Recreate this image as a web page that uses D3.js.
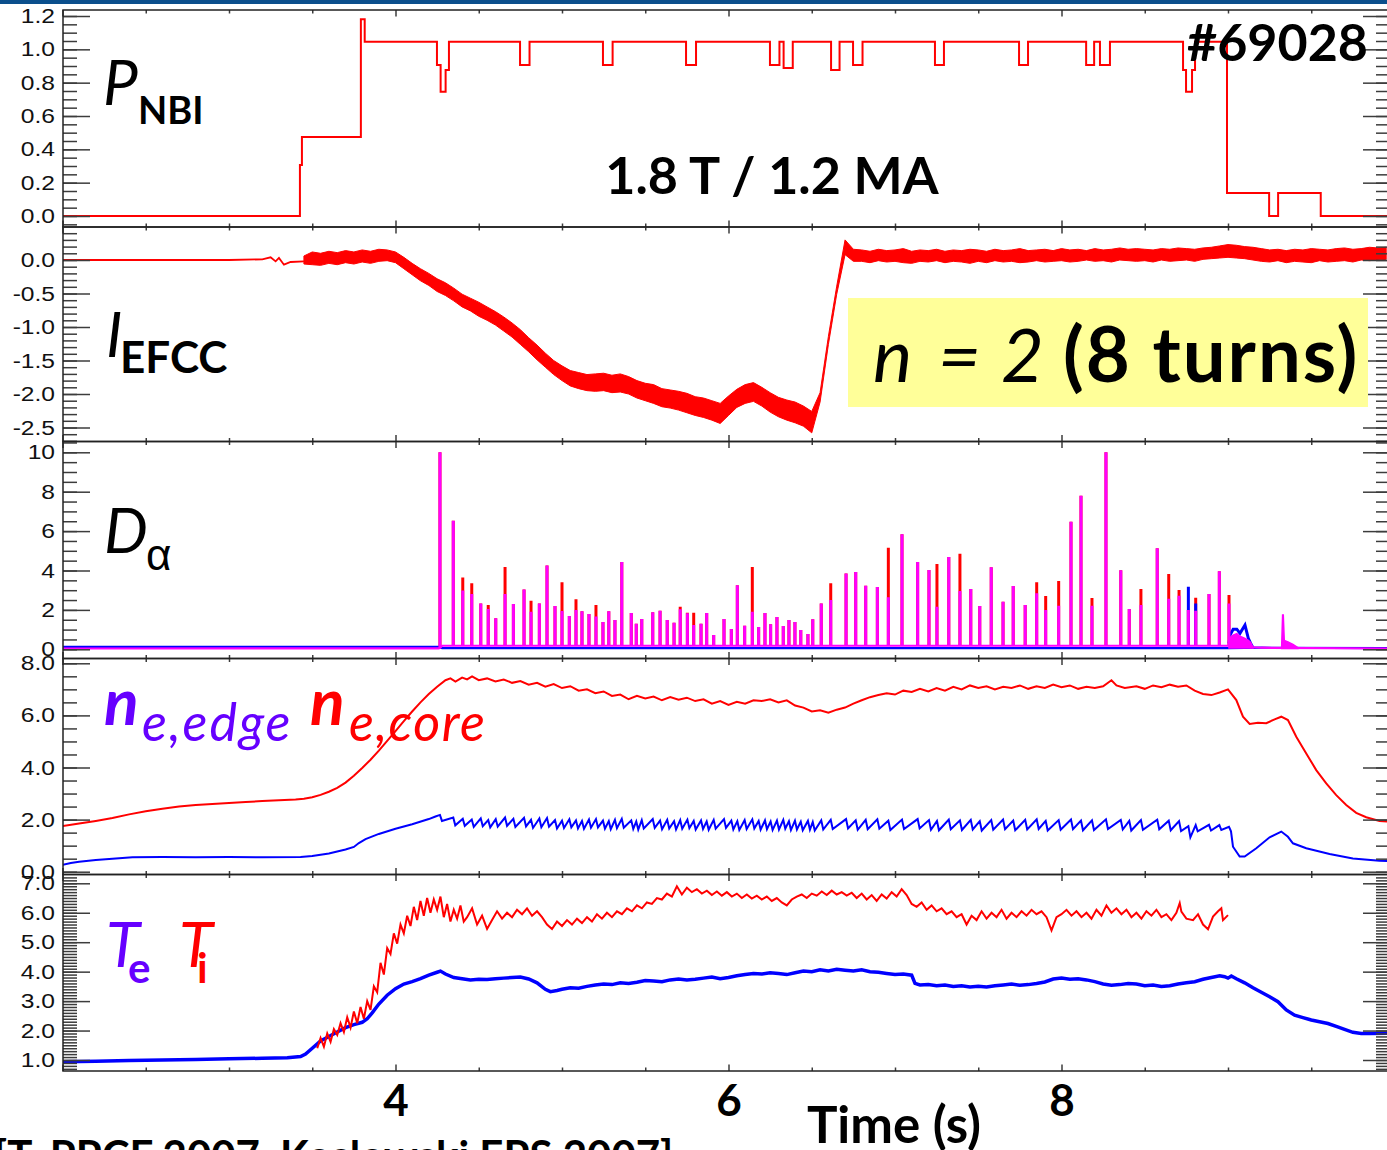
<!DOCTYPE html>
<html>
<head>
<meta charset="utf-8">
<script src="https://cdn.jsdelivr.net/npm/d3@7"></script>
<style>
  html, body { margin: 0; padding: 0; background: #fff; }
  svg { display: block; }
</style>
</head>
<body>
<svg id="chart" width="1387" height="1150"></svg>
<script>
// ---------------------------------------------------------------
// Discharge #69028 — time traces (s)
// ---------------------------------------------------------------

// Tick labels for each panel
const pnbiTicks  = [0, 0.2, 0.4, 0.6, 0.8, 1.0, 1.2];
const iefccTicks = [0, -0.5, -1.0, -1.5, -2.0, -2.5];
const daTicks    = [0, 2, 4, 6, 8, 10];
const neTicks    = [0, 2, 4, 6, 8];
const tTicks     = [1, 2, 3, 4, 5, 6, 7];
const timeLabels = [4, 6, 8];

// Neutral beam power (step trace): [time, power]
const pnbiSteps = [
  [2.000, 0.000], [3.426, 0.306], [3.438, 0.474], [3.792, 1.180], [3.815, 1.045],
  [4.249, 0.906], [4.271, 0.746], [4.301, 0.876], [4.321, 1.045],
  [4.748, 0.906], [4.805, 1.045], [5.246, 0.906], [5.304, 1.045],
  [5.745, 0.906], [5.805, 1.045], [6.249, 0.906], [6.306, 1.045],
  [6.331, 0.888], [6.386, 1.045], [6.616, 0.876], [6.667, 1.045],
  [6.748, 0.906], [6.805, 1.045], [7.240, 0.906], [7.294, 1.045],
  [7.745, 0.906], [7.799, 1.045], [8.148, 0.906], [8.196, 1.045],
  [8.231, 0.906], [8.291, 1.045],
  [8.730, 0.876], [8.748, 0.746], [8.784, 0.876], [8.802, 1.045],
  [8.994, 0.138], [9.247, 0.000], [9.301, 0.138], [9.557, 0.000], [9.975, 0.000]
];

// EFCC current: quiet part before the coils switch on
const iefccQuiet = [
  [2.00, 0.00], [3.00, 0.00], [3.20, 0.01], [3.25, 0.04], [3.28, -0.02],
  [3.30, 0.03], [3.33, -0.07], [3.37, -0.03], [3.45, -0.02]
];
// EFCC current: noise envelope sampled every 50 ms from 3.45 s
const iefccStart = 3.45, iefccStep = 0.05;
const iefccHigh = [
  0.06, 0.12, 0.10, 0.13, 0.11, 0.14, 0.12, 0.15, 0.13, 0.16,
  0.15, 0.12, 0.04, -0.05, -0.13, -0.20, -0.28, -0.34, -0.42, -0.51,
  -0.57, -0.63, -0.70, -0.77, -0.85, -0.94, -1.04, -1.16, -1.27, -1.39,
  -1.50, -1.58, -1.65, -1.68, -1.71, -1.70, -1.69, -1.72, -1.70, -1.74,
  -1.80, -1.84, -1.86, -1.92, -1.94, -1.96, -1.99, -2.04, -2.06, -2.10,
  -2.14, -2.03, -1.93, -1.86, -1.83, -1.90, -1.98, -2.05, -2.09, -2.12,
  -2.18, -2.26, -1.98, -1.14, -0.39, 0.30, 0.16, 0.15, 0.13, 0.16,
  0.14, 0.15, 0.17, 0.13, 0.15, 0.14, 0.16, 0.13, 0.15, 0.14,
  0.16, 0.15, 0.13, 0.16, 0.14, 0.15, 0.17, 0.14, 0.15, 0.16,
  0.14, 0.17, 0.15, 0.16, 0.14, 0.17, 0.15, 0.16, 0.18, 0.16,
  0.17, 0.16, 0.15, 0.17, 0.16, 0.18, 0.17, 0.16, 0.18, 0.19,
  0.21, 0.23, 0.22, 0.20, 0.19, 0.17, 0.15, 0.16, 0.14, 0.16,
  0.15, 0.17, 0.16, 0.15, 0.17, 0.18, 0.16, 0.17, 0.19, 0.18,
  0.19
];
const iefccLow = [
  -0.06, -0.07, -0.08, -0.05, -0.07, -0.04, -0.06, -0.03, -0.05, -0.02,
  -0.01, -0.04, -0.13, -0.22, -0.31, -0.38, -0.47, -0.53, -0.61, -0.70,
  -0.76, -0.84, -0.90, -0.97, -1.06, -1.15, -1.26, -1.37, -1.49, -1.60,
  -1.71, -1.80, -1.88, -1.92, -1.95, -1.96, -1.95, -1.98, -1.97, -2.00,
  -2.06, -2.10, -2.14, -2.19, -2.21, -2.24, -2.28, -2.32, -2.35, -2.39,
  -2.44, -2.32, -2.20, -2.14, -2.11, -2.18, -2.27, -2.34, -2.39, -2.43,
  -2.48, -2.58, -2.12, -1.26, -0.51, 0.08, -0.02, -0.02, -0.04, -0.01,
  -0.03, -0.02, -0.04, -0.05, -0.02, -0.03, -0.01, -0.04, -0.02, -0.03,
  -0.05, -0.02, -0.04, -0.01, -0.03, -0.02, -0.04, -0.03, -0.01, -0.03,
  -0.02, -0.01, -0.03, -0.02, 0.00, -0.02, -0.01, -0.03, 0.00, -0.01,
  -0.02, -0.01, -0.03, 0.00, -0.02, -0.01, 0.00, -0.02, 0.01, 0.02,
  0.03, 0.04, 0.03, 0.02, 0.00, -0.02, -0.03, -0.01, -0.04, -0.02,
  -0.03, -0.04, -0.01, -0.03, -0.02, -0.01, -0.03, 0.00, -0.01, 0.00,
  0.01
];

// D-alpha: ELM times (s) and peak heights of the three channels
const elmTimes = [
  4.267, 4.347, 4.404, 4.458, 4.512, 4.557, 4.602, 4.658, 4.708, 4.772,
  4.814, 4.864, 4.910, 4.958, 5.000, 5.044, 5.084, 5.120, 5.162, 5.204,
  5.246, 5.281, 5.318, 5.359, 5.416, 5.446, 5.479, 5.545, 5.589, 5.632,
  5.673, 5.710, 5.753, 5.791, 5.835, 5.869, 5.911, 5.973, 6.017, 6.053,
  6.097, 6.143, 6.181, 6.219, 6.253, 6.291, 6.329, 6.363, 6.399, 6.434,
  6.477, 6.506, 6.557, 6.614, 6.706, 6.764, 6.824, 6.894, 6.960, 7.042,
  7.136, 7.204, 7.252, 7.323, 7.390, 7.455, 7.509, 7.578, 7.649, 7.710,
  7.782, 7.851, 7.905, 7.983, 8.057, 8.117, 8.183, 8.267, 8.356, 8.407,
  8.477, 8.575, 8.644, 8.706, 8.762, 8.806, 8.886, 8.948, 9.006
];
const daMagenta = [
  10.0, 6.53, 2.98, 2.81, 2.33, 2.05, 1.57, 2.81, 2.30, 3.04,
  1.91, 2.33, 4.25, 2.20, 1.94, 1.69, 2.00, 1.93, 1.79, 1.66,
  1.39, 1.93, 1.49, 4.43, 1.84, 1.30, 1.54, 1.88, 1.96, 1.49,
  1.35, 2.03, 1.83, 1.23, 1.30, 1.84, 0.73, 1.54, 1.03, 3.25,
  1.20, 1.91, 1.13, 1.84, 1.27, 1.64, 1.18, 1.49, 1.39, 0.98,
  0.78, 1.52, 2.33, 2.50, 3.85, 3.92, 3.23, 3.16, 2.64, 5.84,
  4.43, 4.03, 2.16, 4.69, 2.96, 3.06, 2.20, 4.16, 2.42, 3.21,
  2.25, 2.84, 2.00, 2.21, 6.48, 7.80, 2.21, 10.0, 4.01, 2.05,
  2.25, 5.13, 2.57, 2.72, 2.00, 1.96, 2.81, 3.96, 2.33
];
const daRed = [
  10.0, 6.53, 3.64, 3.35, 2.33, 2.25, 1.57, 4.18, 2.30, 3.04,
  2.47, 2.33, 4.25, 2.20, 3.40, 1.69, 2.54, 1.93, 1.79, 2.25,
  1.39, 1.93, 1.49, 4.43, 1.84, 1.30, 1.54, 1.88, 1.96, 1.49,
  1.35, 2.16, 1.86, 1.86, 1.30, 1.84, 0.73, 1.54, 1.03, 3.25,
  1.20, 4.18, 1.13, 1.84, 1.27, 1.64, 1.18, 1.49, 1.39, 0.98,
  0.78, 1.52, 2.33, 3.35, 3.85, 3.92, 3.23, 3.16, 5.16, 5.84,
  4.43, 4.03, 4.33, 4.69, 4.85, 3.06, 2.20, 4.16, 2.42, 3.21,
  2.25, 3.40, 2.71, 3.47, 6.48, 7.80, 2.60, 10.0, 4.01, 2.05,
  3.06, 5.13, 3.82, 3.01, 2.00, 2.62, 2.81, 3.96, 2.76
];
const daBlueSpikeTimes  = [8.762, 8.806];
const daBlueSpikeValues = [3.18, 2.33];
// D-alpha baselines
const daBaseTimes   = [2.00, 4.26, 4.28, 9.00, 9.20, 9.975];
const daBaseBlue    = [0.12, 0.12, 0.06, 0.06, 0.08, 0.06];
const daBaseMagenta = [0.04, 0.05, 0.18, 0.18, 0.08, 0.04];
// D-alpha after the H-L back-transition
const daTailTimes   = [9.006, 9.013, 9.031, 9.053, 9.072, 9.102, 9.122, 9.136, 9.150];
const daTailBlue    = [0.30, 0.73, 1.02, 1.02, 0.81, 1.23, 0.56, 0.30, 0.08];
const daTailMagenta = [0.30, 0.60, 0.72, 0.80, 0.66, 0.55, 0.45, 0.35, 0.10];
const daLateTimes   = [9.322, 9.328, 9.332, 9.338, 9.360, 9.390, 9.420];
const daLateMagenta = [0.06, 1.74, 1.74, 0.45, 0.38, 0.25, 0.08];

// Core line-averaged density: [time, value]
const neCore = [
  [2.00, 1.75], [2.10, 1.85], [2.20, 1.95], [2.30, 2.06], [2.40, 2.20], [2.50, 2.32],
  [2.60, 2.42], [2.70, 2.50], [2.80, 2.56], [2.90, 2.60], [3.00, 2.64], [3.10, 2.68],
  [3.20, 2.71], [3.30, 2.74], [3.40, 2.77], [3.45, 2.80], [3.50, 2.86], [3.55, 2.95],
  [3.60, 3.07], [3.65, 3.22], [3.70, 3.42], [3.75, 3.68], [3.80, 3.98], [3.85, 4.30],
  [3.90, 4.65], [3.95, 5.02], [4.00, 5.40], [4.05, 5.78], [4.10, 6.15], [4.15, 6.50],
  [4.20, 6.82], [4.25, 7.10], [4.30, 7.35], [4.33, 7.42], [4.36, 7.30], [4.40, 7.45],
  [4.43, 7.38], [4.46, 7.50], [4.50, 7.35], [4.55, 7.42], [4.60, 7.30], [4.65, 7.38],
  [4.70, 7.25], [4.75, 7.32], [4.80, 7.18], [4.85, 7.25], [4.90, 7.10], [4.95, 7.20],
  [5.00, 7.05], [5.05, 7.12], [5.10, 6.95], [5.15, 7.00], [5.20, 6.85], [5.25, 6.92],
  [5.30, 6.75], [5.35, 6.80], [5.40, 6.62], [5.45, 6.75], [5.50, 6.65], [5.55, 6.72],
  [5.60, 6.58], [5.65, 6.70], [5.70, 6.60], [5.75, 6.68], [5.80, 6.55], [5.85, 6.62],
  [5.90, 6.45], [5.95, 6.55], [6.00, 6.40], [6.05, 6.52], [6.10, 6.45], [6.15, 6.58],
  [6.20, 6.55], [6.25, 6.62], [6.30, 6.50], [6.35, 6.58], [6.40, 6.38], [6.45, 6.30],
  [6.50, 6.15], [6.55, 6.20], [6.60, 6.10], [6.65, 6.22], [6.70, 6.30], [6.75, 6.45],
  [6.80, 6.58], [6.85, 6.70], [6.90, 6.78], [6.95, 6.85], [7.00, 6.80], [7.05, 6.95],
  [7.10, 6.90], [7.15, 7.02], [7.20, 6.92], [7.25, 7.05], [7.30, 6.95], [7.35, 7.10],
  [7.40, 7.00], [7.45, 7.15], [7.50, 7.05], [7.55, 7.12], [7.60, 7.00], [7.65, 7.10],
  [7.70, 7.05], [7.75, 7.15], [7.80, 7.02], [7.85, 7.12], [7.90, 7.05], [7.95, 7.18],
  [8.00, 7.08], [8.05, 7.15], [8.10, 7.02], [8.15, 7.10], [8.20, 7.05], [8.25, 7.12],
  [8.30, 7.35], [8.33, 7.15], [8.38, 7.05], [8.45, 7.12], [8.50, 7.02], [8.55, 7.15],
  [8.60, 7.08], [8.65, 7.18], [8.70, 7.10], [8.75, 7.15], [8.80, 6.95], [8.85, 6.82],
  [8.90, 6.78], [8.95, 6.88], [9.00, 7.00], [9.05, 6.59], [9.09, 5.95], [9.13, 5.67],
  [9.18, 5.72], [9.23, 5.70], [9.28, 5.85], [9.32, 5.95], [9.36, 5.82], [9.41, 5.18],
  [9.47, 4.54], [9.53, 3.90], [9.59, 3.39], [9.65, 2.94], [9.71, 2.56], [9.77, 2.26],
  [9.83, 2.09], [9.91, 1.95], [9.975, 1.92]
];

// Edge density: before the ELMs, value before / after each ELM, and after H-mode
const neEdgePre = [
  [2.00, 0.26], [2.05, 0.33], [2.10, 0.38], [2.20, 0.45], [2.30, 0.50], [2.42, 0.55],
  [2.60, 0.56], [2.80, 0.55], [3.00, 0.56], [3.20, 0.55], [3.43, 0.56], [3.50, 0.60],
  [3.60, 0.70], [3.70, 0.85], [3.75, 0.95], [3.78, 1.10], [3.82, 1.25], [3.90, 1.45],
  [4.00, 1.65], [4.10, 1.82], [4.20, 2.02], [4.24, 2.12]
];
const neEdgeBeforeElm = [
  2.18, 2.08, 2.03, 2.00, 2.05, 1.98, 2.02, 2.08, 2.03, 2.07,
  1.99, 2.04, 2.06, 1.98, 1.96, 2.01, 1.97, 1.95, 2.00, 2.02,
  1.96, 1.94, 1.99, 2.03, 1.97, 1.93, 1.98, 2.02, 1.96, 1.99,
  1.94, 1.98, 2.00, 1.95, 1.97, 1.93, 1.99, 2.02, 1.96, 1.94,
  1.98, 2.01, 1.95, 1.97, 1.93, 1.96, 1.99, 1.94, 1.96, 1.92,
  1.95, 1.91, 1.97, 1.99, 2.02, 1.97, 1.99, 2.01, 1.96, 2.00,
  2.02, 1.98, 1.95, 2.00, 1.97, 1.99, 1.94, 1.98, 2.00, 1.96,
  1.99, 2.01, 1.95, 1.98, 2.00, 1.96, 1.97, 2.01, 1.99, 1.95,
  1.98, 2.00, 1.96, 1.94, 1.75, 1.79, 1.80, 1.79, 1.72
];
const neEdgeAfterElm = [
  1.95, 1.78, 1.76, 1.72, 1.75, 1.70, 1.73, 1.76, 1.72, 1.74,
  1.68, 1.71, 1.73, 1.66, 1.68, 1.70, 1.66, 1.65, 1.69, 1.70,
  1.65, 1.63, 1.67, 1.69, 1.64, 1.62, 1.66, 1.68, 1.63, 1.66,
  1.62, 1.65, 1.67, 1.62, 1.64, 1.61, 1.65, 1.68, 1.62, 1.60,
  1.64, 1.66, 1.61, 1.63, 1.60, 1.62, 1.65, 1.60, 1.62, 1.59,
  1.61, 1.58, 1.62, 1.64, 1.66, 1.61, 1.63, 1.65, 1.60, 1.64,
  1.66, 1.61, 1.59, 1.63, 1.60, 1.62, 1.58, 1.61, 1.63, 1.59,
  1.62, 1.64, 1.58, 1.61, 1.63, 1.59, 1.60, 1.64, 1.62, 1.58,
  1.61, 1.63, 1.59, 1.56, 1.32, 1.55, 1.58, 1.60, 1.55
];
const neEdgePost = [
  [9.03, 0.96], [9.07, 0.58], [9.10, 0.58], [9.17, 0.90], [9.25, 1.32], [9.32, 1.54],
  [9.36, 1.34], [9.39, 1.09], [9.47, 0.90], [9.61, 0.68], [9.75, 0.51], [9.91, 0.42],
  [9.975, 0.40]
];

// Electron temperature: [time, value]
const teData = [
  [2.00, 0.94], [2.20, 0.96], [2.40, 0.98], [2.60, 1.00], [2.80, 1.02], [3.00, 1.04],
  [3.20, 1.06], [3.35, 1.08], [3.43, 1.12], [3.46, 1.20], [3.50, 1.40], [3.55, 1.65],
  [3.60, 1.80], [3.65, 1.95], [3.70, 2.10], [3.75, 2.20], [3.80, 2.28], [3.83, 2.40],
  [3.86, 2.60], [3.90, 2.90], [3.95, 3.20], [4.00, 3.42], [4.05, 3.58], [4.10, 3.66],
  [4.15, 3.76], [4.20, 3.88], [4.25, 3.98], [4.27, 4.02], [4.30, 3.92], [4.35, 3.80],
  [4.40, 3.76], [4.45, 3.72], [4.50, 3.74], [4.55, 3.73], [4.60, 3.76], [4.65, 3.78],
  [4.70, 3.80], [4.75, 3.82], [4.80, 3.75], [4.85, 3.62], [4.90, 3.40], [4.93, 3.32],
  [4.97, 3.36], [5.00, 3.40], [5.05, 3.45], [5.10, 3.44], [5.15, 3.50], [5.20, 3.55],
  [5.25, 3.58], [5.30, 3.56], [5.35, 3.62], [5.40, 3.60], [5.45, 3.64], [5.50, 3.70],
  [5.55, 3.68], [5.60, 3.66], [5.65, 3.72], [5.70, 3.75], [5.75, 3.72], [5.80, 3.74],
  [5.85, 3.78], [5.90, 3.82], [5.95, 3.76], [6.00, 3.80], [6.05, 3.86], [6.10, 3.90],
  [6.15, 3.94], [6.20, 3.92], [6.25, 3.96], [6.30, 3.94], [6.35, 3.90], [6.40, 3.96],
  [6.45, 4.02], [6.50, 4.00], [6.55, 4.06], [6.60, 4.02], [6.65, 4.08], [6.70, 4.05],
  [6.75, 4.02], [6.80, 4.06], [6.85, 4.00], [6.90, 3.98], [6.95, 3.94], [7.00, 3.90],
  [7.05, 3.92], [7.10, 3.88], [7.12, 3.60], [7.15, 3.55], [7.20, 3.56], [7.25, 3.52],
  [7.30, 3.55], [7.35, 3.50], [7.40, 3.52], [7.45, 3.48], [7.50, 3.50], [7.55, 3.48],
  [7.60, 3.52], [7.65, 3.55], [7.70, 3.58], [7.75, 3.54], [7.80, 3.56], [7.85, 3.60],
  [7.90, 3.65], [7.95, 3.75], [8.00, 3.78], [8.05, 3.74], [8.10, 3.76], [8.15, 3.72],
  [8.20, 3.66], [8.25, 3.58], [8.30, 3.54], [8.35, 3.56], [8.40, 3.60], [8.45, 3.58],
  [8.50, 3.52], [8.55, 3.55], [8.60, 3.50], [8.65, 3.52], [8.70, 3.58], [8.75, 3.62],
  [8.80, 3.66], [8.85, 3.74], [8.90, 3.80], [8.95, 3.86], [8.98, 3.83], [9.00, 3.78],
  [9.02, 3.85], [9.05, 3.76], [9.10, 3.62], [9.15, 3.45], [9.20, 3.30], [9.25, 3.15],
  [9.30, 2.98], [9.35, 2.70], [9.40, 2.52], [9.45, 2.44], [9.50, 2.36], [9.55, 2.30],
  [9.60, 2.24], [9.65, 2.14], [9.70, 2.04], [9.75, 1.94], [9.80, 1.90], [9.85, 1.90],
  [9.975, 1.91]
];

// Ion temperature (CX): [time, value]
const tiData = [
  [3.53, 1.40], [3.55, 1.75], [3.57, 1.45], [3.59, 1.90], [3.61, 1.62], [3.63, 2.05],
  [3.65, 1.85], [3.67, 2.25], [3.69, 1.95], [3.71, 2.45], [3.73, 2.10], [3.75, 2.65],
  [3.77, 2.25], [3.79, 2.80], [3.81, 2.40], [3.83, 3.00], [3.85, 2.70], [3.87, 3.50],
  [3.89, 3.30], [3.91, 4.30], [3.93, 3.90], [3.95, 4.80], [3.97, 4.60], [3.99, 5.30],
  [4.01, 4.95], [4.03, 5.60], [4.05, 5.30], [4.07, 5.90], [4.09, 5.55], [4.11, 6.20],
  [4.13, 5.75], [4.15, 6.40], [4.17, 5.90], [4.19, 6.50], [4.21, 6.00], [4.23, 6.45],
  [4.25, 6.10], [4.27, 6.55], [4.29, 5.85], [4.31, 6.30], [4.33, 5.70], [4.35, 6.10],
  [4.37, 5.80], [4.39, 6.25], [4.41, 5.70], [4.43, 5.85], [4.46, 6.15], [4.49, 5.60],
  [4.52, 5.90], [4.55, 5.45], [4.58, 5.75], [4.61, 6.05], [4.64, 5.80], [4.67, 6.00],
  [4.70, 5.85], [4.73, 6.10], [4.76, 5.95], [4.79, 6.15], [4.82, 5.90], [4.85, 6.05],
  [4.88, 5.85], [4.91, 5.60], [4.94, 5.45], [4.97, 5.70], [5.00, 5.55], [5.03, 5.75],
  [5.06, 5.60], [5.09, 5.80], [5.12, 5.65], [5.15, 5.85], [5.18, 5.70], [5.21, 5.95],
  [5.24, 5.80], [5.27, 6.00], [5.30, 5.85], [5.33, 6.05], [5.36, 5.95], [5.39, 6.15],
  [5.42, 6.05], [5.45, 6.25], [5.48, 6.15], [5.51, 6.35], [5.54, 6.30], [5.57, 6.50],
  [5.60, 6.45], [5.63, 6.65], [5.66, 6.55], [5.69, 6.90], [5.72, 6.62], [5.75, 6.85],
  [5.78, 6.70], [5.81, 6.80], [5.84, 6.65], [5.87, 6.75], [5.90, 6.60], [5.93, 6.72],
  [5.96, 6.58], [5.99, 6.70], [6.02, 6.55], [6.05, 6.65], [6.08, 6.50], [6.11, 6.62],
  [6.14, 6.48], [6.17, 6.58], [6.20, 6.45], [6.23, 6.55], [6.26, 6.40], [6.29, 6.50],
  [6.32, 6.35], [6.35, 6.25], [6.38, 6.45], [6.41, 6.55], [6.44, 6.62], [6.47, 6.50],
  [6.50, 6.65], [6.53, 6.58], [6.56, 6.72], [6.59, 6.60], [6.62, 6.75], [6.65, 6.62],
  [6.68, 6.70], [6.71, 6.58], [6.74, 6.68], [6.77, 6.50], [6.80, 6.65], [6.83, 6.45],
  [6.86, 6.60], [6.89, 6.40], [6.92, 6.62], [6.95, 6.48], [6.98, 6.70], [7.01, 6.55],
  [7.04, 6.80], [7.07, 6.60], [7.10, 6.30], [7.13, 6.20], [7.16, 6.35], [7.19, 6.10],
  [7.22, 6.25], [7.25, 6.05], [7.28, 6.15], [7.31, 5.95], [7.34, 6.05], [7.37, 5.85],
  [7.40, 5.95], [7.43, 5.60], [7.46, 5.90], [7.49, 5.75], [7.52, 6.05], [7.55, 5.80],
  [7.58, 6.00], [7.61, 5.85], [7.64, 6.10], [7.67, 5.80], [7.70, 6.00], [7.73, 5.85],
  [7.76, 6.05], [7.79, 5.90], [7.82, 6.10], [7.85, 5.95], [7.88, 6.05], [7.91, 5.85],
  [7.94, 5.40], [7.97, 5.85], [8.00, 5.95], [8.03, 6.10], [8.06, 5.90], [8.09, 6.05],
  [8.12, 5.85], [8.15, 6.00], [8.18, 5.80], [8.21, 6.10], [8.24, 5.90], [8.27, 6.25],
  [8.30, 6.00], [8.33, 6.15], [8.36, 5.95], [8.39, 6.10], [8.42, 5.85], [8.45, 6.00],
  [8.48, 5.80], [8.51, 6.05], [8.54, 5.90], [8.57, 6.10], [8.60, 5.85], [8.63, 5.95],
  [8.66, 5.75], [8.69, 6.00], [8.71, 6.33], [8.72, 6.04], [8.75, 5.80], [8.79, 5.75],
  [8.82, 5.95], [8.85, 5.60], [8.88, 5.44], [8.91, 5.87], [8.94, 6.05], [8.96, 6.15],
  [8.97, 5.75], [9.00, 5.92]
];

// ---------------------------------------------------------------
// Layout
// ---------------------------------------------------------------
const svg = d3.select("#chart");
const X_L = 63, X_R = 1390;
const x = d3.scaleLinear().domain([2, 10]).range([62.5, 1394.5]);

const RED = "#ff0000", BLUE = "#0000ff", MAGENTA = "#ff00ff", PURPLE = "#6600ff";
const LABEL_FONT = "Lato, 'Open Sans', sans-serif";
const TICK_FONT = "'Liberation Sans', Arial, sans-serif";
const fixed1 = d => d.toFixed(1);

const panels = [
  { id: "pnbi",  top: 10,    bottom: 227,   y: d3.scaleLinear([0, 1.2], [216, 16]),
    major: pnbiTicks,  minorStep: 0.05, fmt: fixed1 },
  { id: "iefcc", top: 227,   bottom: 441.5, y: d3.scaleLinear([0, -2.5], [260, 427.5]),
    major: iefccTicks, minorStep: 0.1,  fmt: fixed1 },
  { id: "da",    top: 441.5, bottom: 658.5, y: d3.scaleLinear([0, 10], [649.3, 452.3]),
    major: daTicks,    minorStep: 0.5,  fmt: d3.format("d") },
  { id: "ne",    top: 658.5, bottom: 874.5, y: d3.scaleLinear([0, 8], [871.7, 663.3]),
    major: neTicks,    minorStep: 0.5,  fmt: fixed1 },
  { id: "temp",  top: 874.5, bottom: 1071,  y: d3.scaleLinear([1, 7], [1060, 883.3]),
    major: tTicks,     minorStep: 0.1,  fmt: fixed1 }
];

// header bar
svg.append("rect").attr("x", 0).attr("y", 0).attr("width", 1387).attr("height", 4)
  .attr("fill", "#0b4f8c");

const defs = svg.append("defs");
const traceLayer = svg.append("g");
const axisLayer = svg.append("g");

function styleTicks(g) {
  g.select(".domain").remove();
  g.selectAll(".tick line").attr("stroke", "#3c3c3c").attr("stroke-width", 1.5);
}

panels.forEach(p => {
  // minor tick positions covering the visible panel range
  const vA = p.y.invert(p.bottom), vB = p.y.invert(p.top);
  const lo = Math.min(vA, vB), hi = Math.max(vA, vB);
  const minor = d3.range(Math.ceil(lo / p.minorStep - 1e-6), Math.floor(hi / p.minorStep + 1e-6) + 1)
    .map(k => +(k * p.minorStep).toFixed(3));

  const g = axisLayer.append("g").attr("class", "panel-" + p.id);

  // left
  g.append("g").attr("transform", `translate(${X_L},0)`)
    .call(d3.axisLeft(p.y).tickValues(minor).tickSize(-14).tickFormat(""))
    .call(styleTicks);
  const leftMajor = g.append("g").attr("transform", `translate(${X_L},0)`)
    .call(d3.axisLeft(p.y).tickValues(p.major).tickSizeInner(-27).tickSizeOuter(0)
      .tickPadding(8).tickFormat(p.fmt))
    .call(styleTicks);
  leftMajor.attr("font-family", TICK_FONT).attr("font-size", 20.5);
  leftMajor.selectAll(".tick text")
    .attr("fill", "#111")
    .attr("x", -8 / 1.2)
    .attr("transform", "scale(1.2,1)");

  // right
  g.append("g").attr("transform", `translate(${X_R},0)`)
    .call(d3.axisRight(p.y).tickValues(minor).tickSize(-14).tickFormat(""))
    .call(styleTicks);
  g.append("g").attr("transform", `translate(${X_R},0)`)
    .call(d3.axisRight(p.y).tickValues(p.major).tickSize(-27).tickFormat(""))
    .call(styleTicks);

  // time ticks on top and bottom edges
  const tMinor = d3.range(2.5, 10, 0.5).filter(t => t % 2 !== 0);
  const tMajor = [2, 4, 6, 8];
  [p.top, p.bottom].forEach((yy, i) => {
    const ax = i === 0 ? d3.axisTop : d3.axisBottom;
    g.append("g").attr("transform", `translate(0,${yy})`)
      .call(ax(x).tickValues(tMinor).tickSize(-3.5).tickFormat(""))
      .call(styleTicks);
    g.append("g").attr("transform", `translate(0,${yy})`)
      .call(ax(x).tickValues(tMajor).tickSize(-6.5).tickFormat(""))
      .call(styleTicks);
  });

  // frame
  g.append("rect")
    .attr("x", X_L).attr("y", p.top)
    .attr("width", X_R - X_L).attr("height", p.bottom - p.top)
    .attr("fill", "none").attr("stroke", "#222").attr("stroke-width", 1.5);

  // clip for the traces
  defs.append("clipPath").attr("id", "clip-" + p.id)
    .append("rect")
    .attr("x", X_L).attr("y", p.top)
    .attr("width", X_R - X_L).attr("height", p.bottom - p.top);
  p.layer = traceLayer.append("g").attr("clip-path", `url(#clip-${p.id})`);
});

const P = Object.fromEntries(panels.map(p => [p.id, p]));

// ---------------------------------------------------------------
// Panel 1: NBI power
// ---------------------------------------------------------------
{
  const p = P.pnbi;
  p.layer.append("path")
    .datum(pnbiSteps)
    .attr("fill", "none").attr("stroke", RED).attr("stroke-width", 2)
    .attr("d", d3.line().curve(d3.curveStepAfter).x(d => x(d[0])).y(d => p.y(d[1])));
}

// ---------------------------------------------------------------
// Panel 2: EFCC current
// ---------------------------------------------------------------
{
  const p = P.iefcc;
  p.layer.append("path")
    .datum(iefccQuiet)
    .attr("fill", "none").attr("stroke", RED).attr("stroke-width", 1.8)
    .attr("d", d3.line().x(d => x(d[0])).y(d => p.y(d[1])));
  const band = iefccHigh.map((h, i) => ({ t: iefccStart + i * iefccStep, hi: h, lo: iefccLow[i] }));
  p.layer.append("path")
    .datum(band)
    .attr("fill", RED).attr("stroke", RED).attr("stroke-width", 1)
    .attr("d", d3.area().x(d => x(d.t)).y0(d => p.y(d.lo)).y1(d => p.y(d.hi)));
}

// ---------------------------------------------------------------
// Panel 3: D-alpha
// ---------------------------------------------------------------
{
  const p = P.da;
  const base = (arr) => daBaseTimes.map((t, i) => [t, arr[i]]);
  const baseAt = t => t < 4.27 ? 0.05 : 0.18;
  const line = d3.line().x(d => x(d[0])).y(d => p.y(d[1]));

  // red channel spikes
  p.layer.selectAll("line.red").data(elmTimes).enter().append("line")
    .attr("x1", t => x(t)).attr("x2", t => x(t))
    .attr("y1", t => p.y(baseAt(t))).attr("y2", (t, i) => p.y(daRed[i]))
    .attr("stroke", RED).attr("stroke-width", 3);

  // blue channel
  p.layer.append("path").datum(base(daBaseBlue))
    .attr("fill", "none").attr("stroke", BLUE).attr("stroke-width", 2.2).attr("d", line);
  p.layer.selectAll("line.blue").data(daBlueSpikeTimes).enter().append("line")
    .attr("x1", t => x(t)).attr("x2", t => x(t))
    .attr("y1", t => p.y(baseAt(t))).attr("y2", (t, i) => p.y(daBlueSpikeValues[i]))
    .attr("stroke", BLUE).attr("stroke-width", 3);
  p.layer.append("path").datum(daTailTimes.map((t, i) => [t, daTailBlue[i]]))
    .attr("fill", "none").attr("stroke", BLUE).attr("stroke-width", 3).attr("d", line);

  // magenta channel
  p.layer.append("path").datum(base(daBaseMagenta))
    .attr("fill", "none").attr("stroke", MAGENTA).attr("stroke-width", 2.2).attr("d", line);
  p.layer.selectAll("line.mag").data(elmTimes).enter().append("line")
    .attr("x1", t => x(t)).attr("x2", t => x(t))
    .attr("y1", t => p.y(baseAt(t))).attr("y2", (t, i) => p.y(daMagenta[i]))
    .attr("stroke", MAGENTA).attr("stroke-width", 3);
  p.layer.append("path").datum(daTailTimes.map((t, i) => [t, daTailMagenta[i]]))
    .attr("fill", MAGENTA).attr("stroke", MAGENTA).attr("stroke-width", 1.5)
    .attr("d", d3.area().x(d => x(d[0])).y0(p.y(0.06)).y1(d => p.y(d[1])));
  p.layer.append("path").datum(daLateTimes.map((t, i) => [t, daLateMagenta[i]]))
    .attr("fill", MAGENTA).attr("stroke", MAGENTA).attr("stroke-width", 1.5)
    .attr("d", d3.area().x(d => x(d[0])).y0(p.y(0.04)).y1(d => p.y(d[1])));
}

// ---------------------------------------------------------------
// Panel 4: densities
// ---------------------------------------------------------------
{
  const p = P.ne;
  const line = d3.line().x(d => x(d[0])).y(d => p.y(d[1]));
  const edge = neEdgePre.slice();
  elmTimes.forEach((t, k) => {
    edge.push([t, neEdgeBeforeElm[k]]);
    edge.push([t + 0.012, neEdgeAfterElm[k]]);
  });
  neEdgePost.forEach(d => edge.push(d));
  p.layer.append("path").datum(neCore)
    .attr("fill", "none").attr("stroke", RED).attr("stroke-width", 2).attr("d", line);
  p.layer.append("path").datum(edge)
    .attr("fill", "none").attr("stroke", BLUE).attr("stroke-width", 2).attr("d", line);
}

// ---------------------------------------------------------------
// Panel 5: temperatures
// ---------------------------------------------------------------
{
  const p = P.temp;
  const line = d3.line().x(d => x(d[0])).y(d => p.y(d[1]));
  p.layer.append("path").datum(teData)
    .attr("fill", "none").attr("stroke", BLUE).attr("stroke-width", 3.5).attr("d", line);
  p.layer.append("path").datum(tiData)
    .attr("fill", "none").attr("stroke", RED).attr("stroke-width", 2).attr("d", line);
}

// ---------------------------------------------------------------
// Annotations
// ---------------------------------------------------------------
const ann = svg.append("g").attr("font-family", LABEL_FONT);

function label(parts) {
  const t = ann.append("text");
  parts.forEach(pt => {
    t.append("tspan")
      .attr("x", pt.x).attr("y", pt.y)
      .attr("font-size", pt.size)
      .attr("font-style", pt.italic ? "italic" : "normal")
      .attr("font-weight", pt.bold ? 700 : 400)
      .attr("font-family", pt.family || null)
      .attr("letter-spacing", pt.spacing || null)
      .attr("fill", pt.fill || "#000")
      .text(pt.text);
  });
  return t;
}

label([{ text: "P", x: 103, y: 105, size: 62, italic: true },
       { text: "NBI", x: 138, y: 124, size: 38, bold: true }]);
label([{ text: "I", x: 106, y: 357, size: 62, italic: true },
       { text: "EFCC", x: 120, y: 373, size: 44, bold: true }]);
label([{ text: "D", x: 104, y: 553, size: 62, italic: true },
       { text: "α", x: 146, y: 570, size: 44, family: "'Liberation Sans', Arial, sans-serif" }]);
label([{ text: "n", x: 104, y: 725, size: 64, italic: true, bold: true, fill: PURPLE },
       { text: "e,edge", x: 142, y: 741, size: 52, italic: true, fill: PURPLE, spacing: 2 },
       { text: "n", x: 310, y: 725, size: 64, italic: true, bold: true, fill: RED },
       { text: "e,core", x: 349, y: 741, size: 52, italic: true, fill: RED, spacing: 1.5 }]);
label([{ text: "T", x: 106, y: 967, size: 62, italic: true, fill: PURPLE },
       { text: "e", x: 128, y: 983, size: 42, bold: true, fill: PURPLE },
       { text: "T", x: 179, y: 967, size: 62, italic: true, fill: RED },
       { text: "i", x: 197, y: 983, size: 42, bold: true, fill: RED }]);

ann.append("text").attr("x", 1368).attr("y", 61).attr("text-anchor", "end")
  .attr("font-size", 52).attr("font-weight", 700).text("#69028");
ann.append("text").attr("x", 772).attr("y", 194).attr("text-anchor", "middle")
  .attr("font-size", 52).attr("font-weight", 700).text("1.8 T / 1.2 MA");

ann.append("rect").attr("x", 848).attr("y", 298).attr("width", 520).attr("height", 109)
  .attr("fill", "#ffff99");
label([{ text: "n", x: 873, y: 382, size: 74, italic: true },
       { text: "=", x: 938, y: 382, size: 74, italic: true },
       { text: "2", x: 1001, y: 382, size: 74, italic: true },
       { text: "(8 turns)", x: 1063, y: 382, size: 76, bold: true, spacing: 2 }]);

// time axis labels
const timeAxis = svg.append("g").attr("transform", "translate(0,1071)")
  .call(d3.axisBottom(x).tickValues(timeLabels).tickSize(0).tickPadding(14).tickFormat(d3.format("d")));
timeAxis.select(".domain").remove();
timeAxis.attr("font-family", LABEL_FONT).attr("font-size", 44).attr("font-weight", 700);
timeAxis.selectAll("text").attr("fill", "#000");

ann.append("text").attr("x", 807).attr("y", 1143)
  .attr("font-size", 51).attr("font-weight", 700).text("Time (s)");

ann.append("text").attr("x", -6).attr("y", 1171)
  .attr("font-size", 42).attr("font-weight", 700).text("[T. PPCF 2007, Koslowski EPS 2007]");
</script>
</body>
</html>
